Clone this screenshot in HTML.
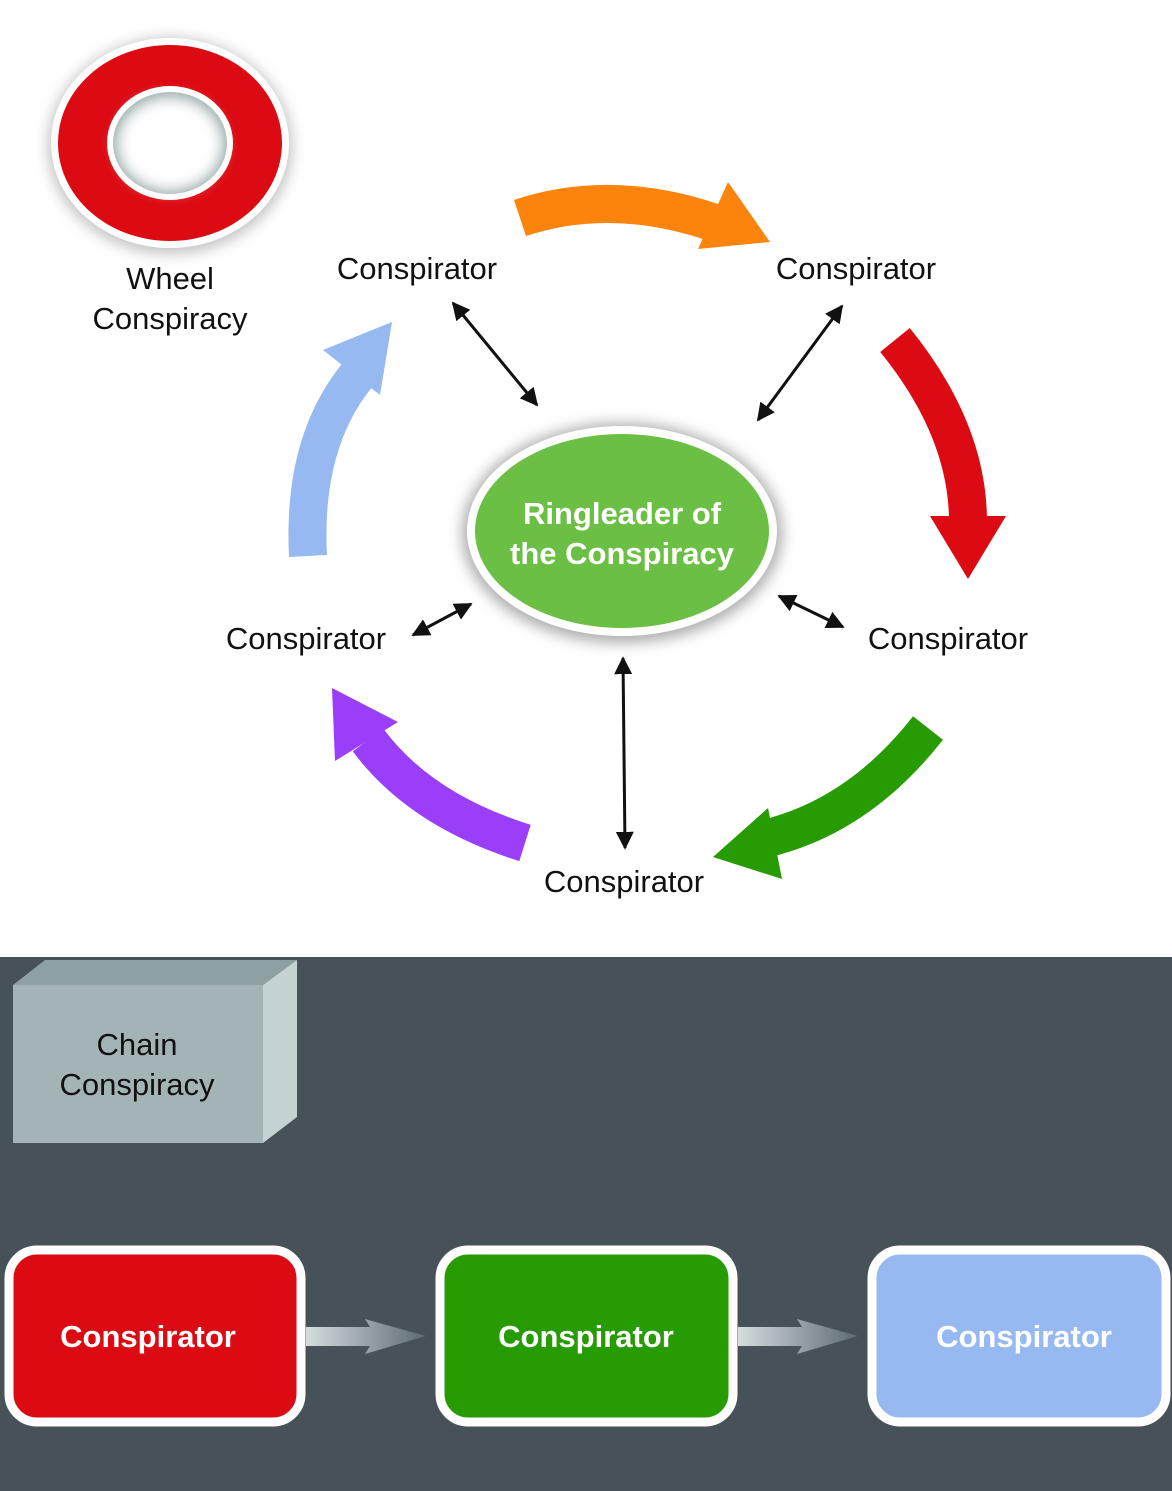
<!DOCTYPE html>
<html><head><meta charset="utf-8"><style>
html,body{margin:0;padding:0;background:#fff;}
svg{display:block;}
</style></head><body>
<svg width="1172" height="1491" viewBox="0 0 1172 1491" xmlns="http://www.w3.org/2000/svg">
<defs>
<filter id="sh" x="-20%" y="-20%" width="140%" height="140%"><feGaussianBlur stdDeviation="7"/></filter>
<linearGradient id="ga" x1="0" x2="1" y1="0" y2="0"><stop offset="0" stop-color="#d4dde0"/><stop offset="1" stop-color="#5d6a70"/></linearGradient>
<marker id="ah" viewBox="0 0 10 10" refX="9" refY="5" markerWidth="6" markerHeight="6" orient="auto-start-reverse"><path d="M0,0 L10,5 L0,10 z" fill="#111"/></marker>
</defs>
<rect width="1172" height="957" fill="#fff"/>
<ellipse cx="170" cy="146" rx="122" ry="108" fill="#888" opacity="0.5" filter="url(#sh)"/>
<ellipse cx="170" cy="143" rx="119" ry="105" fill="#fff"/>
<ellipse cx="170" cy="143" rx="112" ry="98" fill="#dc0a12"/>
<ellipse cx="170" cy="143" rx="63" ry="57" fill="#fff"/>
<ellipse cx="170" cy="143" rx="57" ry="51" fill="#9aa"/>
<ellipse cx="170" cy="144" rx="53" ry="47" fill="#fff" filter="url(#sh)"/>
<g font-family="Liberation Sans, sans-serif" font-size="31" fill="#111" text-anchor="middle">
<text x="170" y="289">Wheel</text>
<text x="170" y="329">Conspiracy</text>
<text x="417" y="279">Conspirator</text>
<text x="856" y="279">Conspirator</text>
<text x="306" y="649">Conspirator</text>
<text x="948" y="649">Conspirator</text>
<text x="624" y="892">Conspirator</text>
</g>
<g fill="none" stroke-width="38">
<path d="M520,218 Q610,188 712,222" stroke="#fd840c"/>
<path d="M895,340 Q968,430 968,522" stroke="#dc0a12"/>
<path d="M928,728 Q860,815 768,838" stroke="#279b02"/>
<path d="M525,843 Q420,810 368,740" stroke="#9b3ef9"/>
<path d="M308,556 Q302,440 360,372" stroke="#97b9f2"/>
</g>
<polygon points="728,182 770,242 698,249" fill="#fd840c"/>
<polygon points="930,516 1006,516 968,579" fill="#dc0a12"/>
<polygon points="713,857 768,808 782,879" fill="#279b02"/>
<polygon points="332,688 335,761 398,722" fill="#9b3ef9"/>
<polygon points="392,322 323,350 380,395" fill="#97b9f2"/>
<g stroke="#111" stroke-width="3" marker-start="url(#ah)" marker-end="url(#ah)">
<line x1="453" y1="303" x2="537" y2="405"/>
<line x1="842" y1="306" x2="758" y2="420"/>
<line x1="413" y1="635" x2="471" y2="604"/>
<line x1="779" y1="596" x2="843" y2="627"/>
<line x1="623" y1="658" x2="625" y2="848"/>
</g>
<ellipse cx="622" cy="533" rx="160" ry="110" fill="#777" opacity="0.6" filter="url(#sh)"/>
<ellipse cx="622" cy="531" rx="155" ry="105" fill="#fff"/>
<ellipse cx="622" cy="531" rx="147" ry="97" fill="#6cbf45"/>
<g font-family="Liberation Sans, sans-serif" font-size="31" font-weight="bold" fill="#fff" text-anchor="middle">
<text x="622" y="524">Ringleader of</text>
<text x="622" y="564">the Conspiracy</text>
</g>
<rect x="0" y="957" width="1172" height="534" fill="#465158"/>
<polygon points="13,985 45,960 297,960 263,985" fill="#8fa0a2"/>
<polygon points="263,985 297,960 297,1117 263,1143" fill="#c6d3d4"/>
<rect x="13" y="985" width="250" height="158" fill="#a4b3b6"/>
<g font-family="Liberation Sans, sans-serif" font-size="31" fill="#111" text-anchor="middle">
<text x="137" y="1055">Chain</text>
<text x="137" y="1095">Conspiracy</text>
</g>
<rect x="9" y="1250" width="292" height="172" rx="28" fill="#dc0a12" stroke="#fff" stroke-width="9"/>
<rect x="440" y="1250" width="293" height="172" rx="28" fill="#279b02" stroke="#fff" stroke-width="9"/>
<rect x="872" y="1250" width="294" height="172" rx="28" fill="#97b9f2" stroke="#fff" stroke-width="9"/>
<polygon points="306,1327 370,1327 365,1319 426,1336 365,1354 370,1346 306,1346" fill="url(#ga)"/>
<polygon points="738,1327 802,1327 797,1319 858,1336 797,1354 802,1346 738,1346" fill="url(#ga)"/>
<g font-family="Liberation Sans, sans-serif" font-size="31" font-weight="bold" fill="#fff" text-anchor="middle">
<text x="148" y="1347">Conspirator</text>
<text x="586" y="1347">Conspirator</text>
<text x="1024" y="1347">Conspirator</text>
</g>
</svg>
</body></html>
